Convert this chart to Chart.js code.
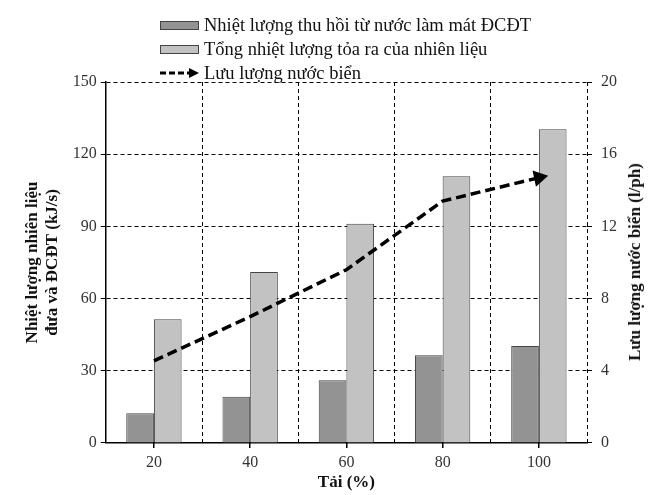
<!DOCTYPE html>
<html>
<head>
<meta charset="utf-8">
<script src="https://cdn.jsdelivr.net/npm/chart.js@4.4.1/dist/chart.umd.min.js"></script>
<style>
  body { margin: 0; background: #fff; }
  #wrap { position: relative; width: 661px; height: 495px; }
  #legend { position: absolute; left: 160px; top: 13px; font-family: "Liberation Serif", "Times New Roman", serif; font-size: 18.5px; color: #111; }
  .item { display: flex; align-items: center; height: 24px; white-space: nowrap; }
  .sw { width: 37px; height: 7px; border: 1px solid #444; margin-right: 5px; }
  .arrow { width: 39px; height: 10px; margin-right: 5px; }
  #rightTitle { position: absolute; left: 635px; top: 262px; transform: translate(-50%, -50%) rotate(-90deg); font-family: "Liberation Serif", "Times New Roman", serif; font-weight: bold; font-size: 17px; color: #111; white-space: nowrap; }
</style>
</head>
<body>
<div id="wrap">
  <canvas id="heatChart"></canvas>
  <div id="legend"></div>
  <div id="rightTitle"></div>
</div>
<script>
const loads = ["20", "40", "60", "80", "100"];
const heatRecovered = [12.4, 19.2, 26.1, 36.5, 40.3];
const heatTotal = [51.4, 71.0, 91.1, 110.8, 130.4];
const seawaterFlow = [4.55, 7.0, 9.6, 13.4, 14.7];

const seriesNames = [
  "Nhiệt lượng thu hồi từ nước làm mát ĐCĐT",
  "Tổng nhiệt lượng tỏa ra của nhiên liệu",
  "Lưu lượng nước biển",
];
const leftTitle = ["Nhiệt lượng nhiên liệu", "đưa và ĐCĐT (kJ/s)"];
const rightTitle = "Lưu lượng nước biển (l/ph)";
const bottomTitle = "Tải (%)";

const darkGray = "#939393";
const lightGray = "#c2c2c2";
const serif = "'Liberation Serif', 'Times New Roman', serif";

Chart.defaults.font.family = serif;
Chart.defaults.color = "#333";

// legend stacked one per row, like the original figure
const legend = document.getElementById("legend");
legend.innerHTML =
  `<div class="item"><span class="sw" style="background:${darkGray}"></span>${seriesNames[0]}</div>` +
  `<div class="item"><span class="sw" style="background:${lightGray}"></span>${seriesNames[1]}</div>` +
  `<div class="item"><svg class="arrow" viewBox="0 0 39 10"><line x1="0" y1="5" x2="30" y2="5" stroke="#000" stroke-width="3" stroke-dasharray="6,3"/><polygon points="29,0 39,5 29,10" fill="#000"/></svg>${seriesNames[2]}</div>`;

// right axis title reads bottom-to-top in the original, Chart.js would turn it the other way
document.getElementById("rightTitle").textContent = rightTitle;

const ctx = document.getElementById("heatChart").getContext("2d");

const tickFont = { size: 16, lineHeight: 1 };
const titleFont = { size: 17, weight: "bold" };

new Chart(ctx, {
  type: "bar",
  data: {
    labels: loads,
    datasets: [
      {
        type: "line",
        label: seriesNames[2],
        data: seawaterFlow,
        yAxisID: "y2",
        borderColor: "#000",
        backgroundColor: "#000",
        borderWidth: 3.5,
        borderDash: [10, 5],
        tension: 0,
        pointStyle: "triangle",
        pointRadius: [0, 0, 0, 0, 6],
        pointRotation: 78,
        order: 0,
      },
      {
        label: seriesNames[0],
        data: heatRecovered,
        backgroundColor: darkGray,
        borderColor: "#444",
        borderWidth: 1,
        order: 1,
      },
      {
        label: seriesNames[1],
        data: heatTotal,
        backgroundColor: lightGray,
        borderColor: "#444",
        borderWidth: 1,
        order: 1,
      },
    ],
  },
  options: {
    responsive: true,
    maintainAspectRatio: false,
    animation: false,
    datasets: {
      bar: { barPercentage: 1, categoryPercentage: 0.575 },
    },
    layout: { padding: { top: 82, left: 14, right: 35, bottom: 0 } },
    plugins: {
      legend: { display: false },
      tooltip: { enabled: false },
    },
    scales: {
      x: {
        grid: { offset: true, color: "#000", lineWidth: 1, drawTicks: false },
        border: { color: "#000", width: 1.5, dash: [4, 3] },
        ticks: { display: false },
      },
      x2: {
        type: "category",
        position: "bottom",
        offset: true,
        grid: { offset: false, drawOnChartArea: false, drawTicks: true, tickLength: 5, color: "#000", lineWidth: 1.5 },
        border: { display: false },
        ticks: { font: tickFont, padding: 7 },
        title: { display: true, text: bottomTitle, font: { size: 17, weight: "bold", lineHeight: 0.59 }, color: "#111", padding: { top: 0, bottom: 7 } },
      },
      y: {
        position: "left",
        min: 0,
        max: 150,
        ticks: { stepSize: 30, font: tickFont, padding: 4 },
        grid: { color: "#000", lineWidth: 1, tickLength: 5 },
        border: { color: "#000", width: 1.5, dash: [4, 3] },
        title: {
          display: true,
          text: leftTitle,
          font: titleFont,
          color: "#111",
          padding: { top: 8, bottom: 6 },
        },
      },
      y2: {
        position: "right",
        min: 0,
        max: 20,
        ticks: { stepSize: 4, font: tickFont, padding: 9 },
        grid: { drawOnChartArea: false, color: "#000", lineWidth: 1, tickLength: 5 },
        border: { display: false },
      },
    },
  },
});
</script>
</body>
</html>
